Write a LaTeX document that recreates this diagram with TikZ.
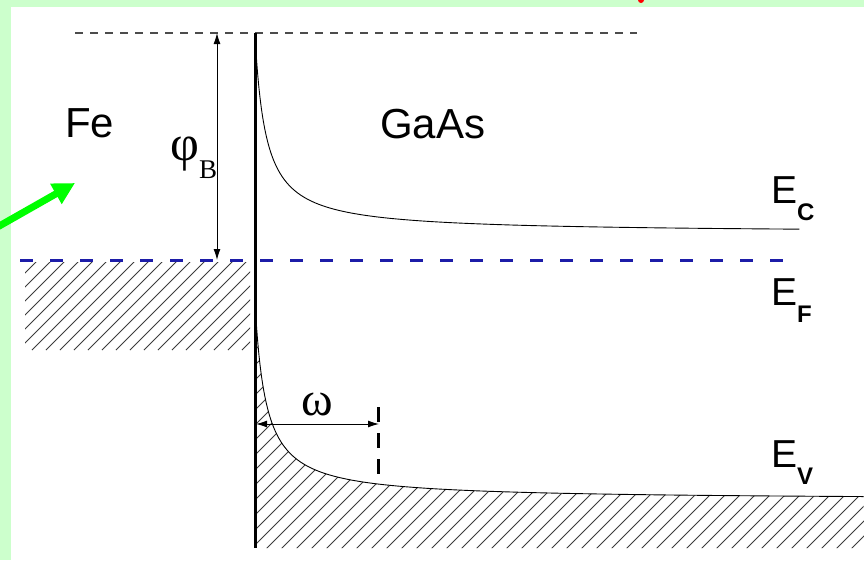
\documentclass[tikz,border=0pt]{standalone}
\usepackage{fontspec}
\setmainfont{Liberation Sans}
\newfontfamily\greekfont{Liberation Serif}
\usetikzlibrary{arrows.meta}
\definecolor{bggreen}{RGB}{204,255,204}
\definecolor{fermiblue}{RGB}{28,28,168}
\definecolor{hatchgray}{RGB}{60,60,60}
\newcommand{\bandlabel}[1]{E\raisebox{-17pt}{\fontsize{24}{24}\selectfont\bfseries #1}}
\tikzset{
	lbl/.style={anchor=base west, inner sep=0pt, font=\fontsize{42}{42}\selectfont},
	hatch/.style={hatchgray, line width=0.8pt},
	dim/.style={line width=1pt, {Latex[length=11pt,width=7pt]}-{Latex[length=11pt,width=7pt]}}
}
\begin{document}
\begin{tikzpicture}[x=1pt, y=-1pt]
	\useasboundingbox (0,0) rectangle (864,560);
	\fill[bggreen] (0,0) rectangle (864,560);
	\fill[white] (11,7) rectangle (864,560);
	\fill[red] (641,0) ellipse (3pt and 3pt);
	\begin{scope}
		\clip (25,262) rectangle (250,350);
		\foreach \i in {-80,-66,...,260} \draw[hatch] (\i,350) -- ++(100,-100);
	\end{scope}
	\begin{scope}
		\clip (255,302) -- plot[variable=\s, domain=0:4.05, samples=70, smooth] ({244.2+10.8*exp(\s)},{500-198.15*exp(-\s)}) -- (864,548) -- (255,548) -- cycle;
		\foreach \i in {-60,-45,...,870} \draw[hatch] (\i,560) -- ++(320,-320);
	\end{scope}
	\draw[line width=0.9pt] plot[variable=\s, domain=0:3.94, samples=70, smooth] ({244.2+10.8*exp(\s)},{233-198.15*exp(-\s)});
	\draw[line width=0.9pt] plot[variable=\s, domain=0:4.05, samples=70, smooth] ({244.2+10.8*exp(\s)},{500-198.15*exp(-\s)});
	\coordinate (vac1) at (75,33);
	\coordinate (vac2) at (637,33);
	\coordinate (ef1) at (20,260);
	\coordinate (ef2) at (790,260);
	\coordinate (wtop) at (255,33);
	\coordinate (wbot) at (255,548);
	\coordinate (phitop) at (217,33);
	\coordinate (phibot) at (217,260);
	\coordinate (om1) at (256,424);
	\coordinate (om2) at (379,424);
	\coordinate (omtop) at (378,407);
	\coordinate (ombot) at (378,482);
	\coordinate (gs) at (-6,229);
	\coordinate (gt) at (75,183);
	\draw[gray!60!black, line width=1.5pt, dash pattern=on 8pt off 7pt] (vac1) -- (vac2);
	\draw[fermiblue, line width=3pt, dash pattern=on 13pt off 17pt] (ef1) -- (ef2);
	\draw[line width=3pt] (wtop) -- (wbot);
	\draw[dim] (phitop) -- (phibot);
	\draw[dim] (om1) -- (om2);
	\draw[line width=3pt, dash pattern=on 15pt off 11pt] (omtop) -- (ombot);
	\draw[green, line width=7pt, -{Triangle[length=22pt,width=22pt]}] (gs) -- (gt);
	\node[lbl] (fe) at (65,137) {Fe};
	\node[lbl] (gaas) at (380,138) {GaAs};
	\node[lbl, font=\fontsize{50}{50}\selectfont\greekfont] (phi) at (170,160) {φ};
	\node[lbl, font=\fontsize{27}{27}\selectfont\greekfont] (phib) at (199,178) {B};
	\node[lbl, font=\fontsize{48}{48}\selectfont\greekfont] (omega) at (301,415) {ω};
	\node[lbl, font=\fontsize{39}{39}\selectfont] (ec) at (771,203) {\bandlabel{C}};
	\node[lbl, font=\fontsize{39}{39}\selectfont] (ef) at (771,305) {\bandlabel{F}};
	\node[lbl, font=\fontsize{39}{39}\selectfont] (ev) at (771,467) {\bandlabel{V}};
\end{tikzpicture}
\end{document}
